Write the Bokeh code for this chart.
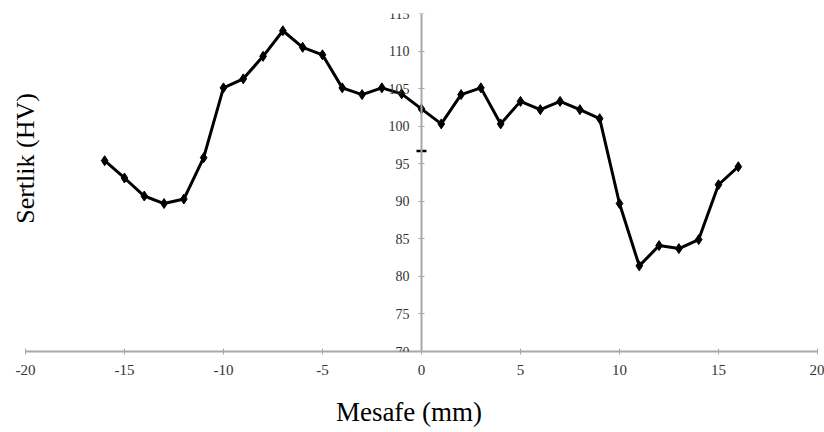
from math import pi
from bokeh.plotting import figure
from bokeh.models import LinearAxis, FixedTicker, Range1d, Label
from bokeh.embed import file_html
from bokeh.resources import INLINE

# Data
distance_mm = list(range(-16, 17))
hardness_hv = [95.4, 93.1, 90.7, 89.7, 90.3, 95.8, 105.1, 106.3, 109.3, 112.7,
               110.5, 109.5, 105.1, 104.2, 105.1, 104.3, 102.3, 100.3, 104.2,
               105.1, 100.3, 103.3, 102.2, 103.3, 102.2, 101.0, 89.7, 81.4,
               84.1, 83.7, 84.9, 92.2, 94.6]

# short black mark seen on the y axis in the reference
axis_mark_x = [0]
axis_mark_y = [96.7]

x_ticks = [-20, -15, -10, -5, 0, 5, 10, 15, 20]
x_tick_labels = ["-20", "-15", "-10", "-5", "0", "5", "10", "15", "20"]
y_ticks = [70, 75, 80, 85, 90, 95, 100, 105, 110, 115]
y_tick_labels = ["70", "75", "80", "85", "90", "95", "100", "105", "110", "115"]

x_title = "Mesafe (mm)"
y_title = "Sertlik (HV)"

FONT = "Liberation Serif"
AXIS_COLOR = "#a8a8a8"
LABEL_COLOR = "#333333"

# frame starts at the canvas edge; the x axis itself is bounded to [-20, 20]
p = figure(width=824, height=432,
           x_range=Range1d(-21.26, 20), y_range=Range1d(70, 115),
           x_axis_location=None, y_axis_location=None,
           toolbar_location=None, output_backend="svg",
           min_border_left=0, min_border_right=7,
           min_border_top=13, min_border_bottom=81)
p.outline_line_color = None
p.background_fill_color = "white"
p.border_fill_color = "white"
for g in p.grid:
    g.visible = False

# bottom x axis
xaxis = LinearAxis(ticker=FixedTicker(ticks=x_ticks), bounds=(-20, 20),
                   major_label_overrides={t: l for t, l in zip(x_ticks, x_tick_labels)},
                   axis_label=x_title)
xaxis.axis_line_color = AXIS_COLOR
xaxis.axis_line_width = 2
xaxis.major_tick_line_color = AXIS_COLOR
xaxis.major_tick_in = 3
xaxis.major_tick_out = 3
xaxis.minor_tick_line_color = None
xaxis.major_label_text_font = FONT
xaxis.major_label_text_font_size = "15px"
xaxis.major_label_text_color = LABEL_COLOR
xaxis.major_label_standoff = 10
xaxis.axis_label_text_font = FONT
xaxis.axis_label_text_font_size = "27px"
xaxis.axis_label_text_font_style = "normal"
xaxis.axis_label_text_color = "black"
xaxis.axis_label_standoff = 19
p.add_layout(xaxis, "below")

# y axis crossing at x = 0
yaxis = LinearAxis(ticker=FixedTicker(ticks=y_ticks), fixed_location=0,
                   major_label_overrides={t: l for t, l in zip(y_ticks, y_tick_labels)})
yaxis.axis_line_color = AXIS_COLOR
yaxis.axis_line_width = 2
yaxis.major_tick_line_color = AXIS_COLOR
yaxis.major_tick_in = 3
yaxis.major_tick_out = 3
yaxis.minor_tick_line_color = None
yaxis.major_label_text_font = FONT
yaxis.major_label_text_font_size = "14px"
yaxis.major_label_text_color = LABEL_COLOR
yaxis.major_label_standoff = 9
p.add_layout(yaxis, "left")

# y title placed at the far left, rotated
ylab = Label(x=-20, y=95.7, text=y_title, angle=pi / 2,
             text_font=FONT, text_font_size="26px", text_color="black",
             text_align="center", text_baseline="middle")
p.add_layout(ylab)

p.line(distance_mm, hardness_hv, line_color="black", line_width=3)
p.scatter(distance_mm, hardness_hv, marker="diamond", size=10,
          fill_color="black", line_color="black")
p.scatter(axis_mark_x, axis_mark_y, marker="dash", size=10,
          line_color="black", line_width=2.5)

open("out.html", "w").write(file_html(p, INLINE))
